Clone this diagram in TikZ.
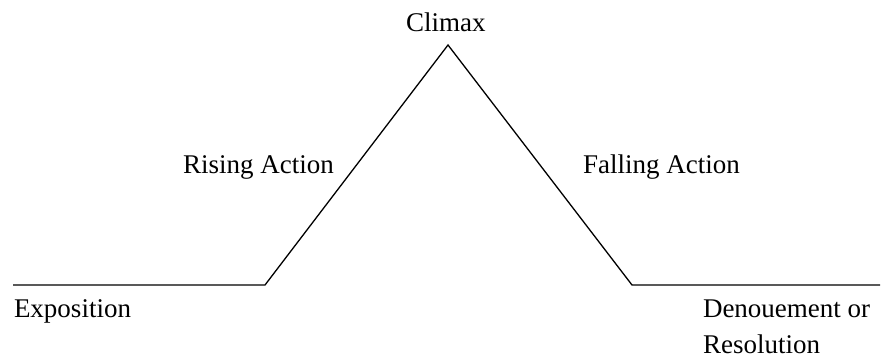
\documentclass[tikz,border=0pt]{standalone}
\usepackage{fontspec}
\setmainfont{Liberation Serif}
\begin{document}
\begin{tikzpicture}[x=1pt,y=-1pt,
  lbl/.style={inner sep=0pt,outer sep=0pt,anchor=base west,font=\fontsize{27}{36}\selectfont,align=left},
  arc/.style={line width=1.3pt,line join=miter}]
\useasboundingbox (0,0) rectangle (882,358);
\coordinate (start) at (13,285);
\coordinate (rise) at (265,285);
\coordinate (peak) at (448,45);
\coordinate (fall) at (632,285);
\coordinate (end) at (880,285);
\draw[arc] (start) -- (rise) -- (peak) -- (fall) -- (end);
\node[lbl] (climax) at (406,32) {Climax};
\node[lbl] (rising) at (183,173) {Rising Action};
\node[lbl] (falling) at (583,173) {Falling Action};
\node[lbl] (expo) at (14,317) {Exposition};
\node[lbl] (denoue) at (703,353) {Denouement or\\Resolution};
\end{tikzpicture}
\end{document}
